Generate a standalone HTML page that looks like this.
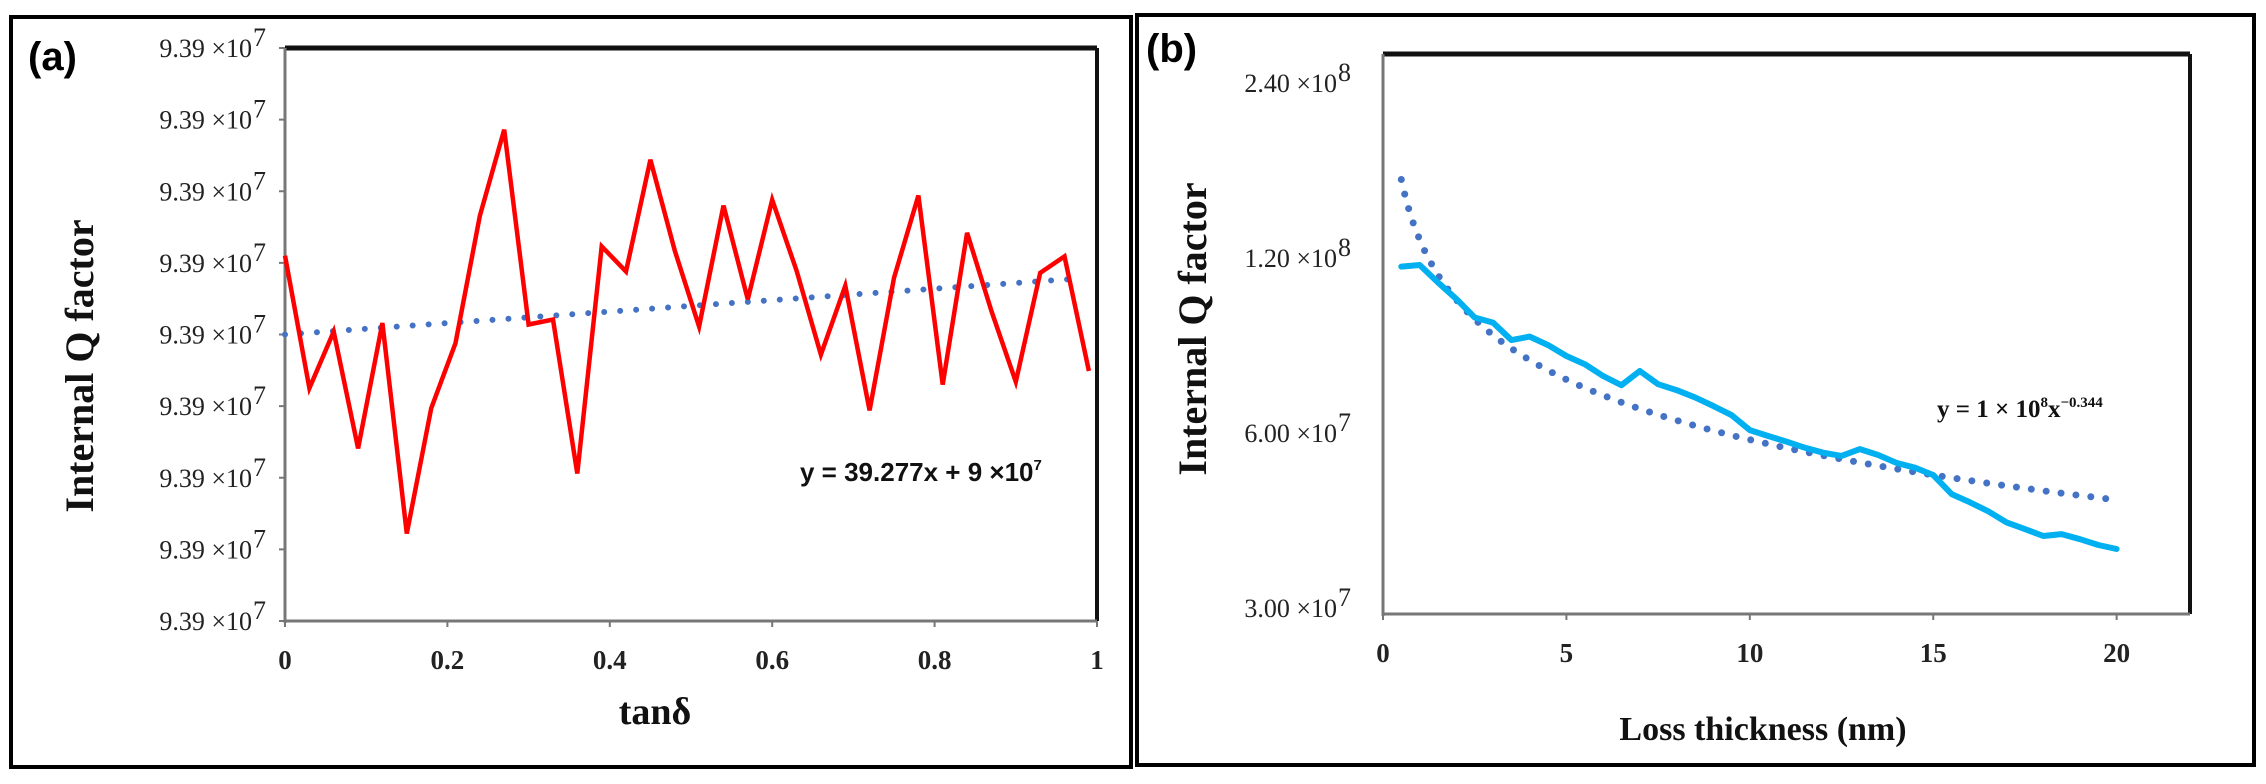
<!DOCTYPE html>
<html><head><meta charset="utf-8"><style>
html,body{margin:0;padding:0;background:#fff;width:2266px;height:784px;overflow:hidden}
svg{display:block}
.tick{font-family:"Liberation Serif",serif;font-size:26px;fill:#222}
.xt{font-family:"Liberation Serif",serif;font-size:27px;font-weight:bold;fill:#222}
.title{font-family:"Liberation Serif",serif;font-weight:bold;fill:#111}
.lab{font-family:"Liberation Sans",sans-serif;font-weight:bold;font-size:40px;fill:#000}
</style></head><body>
<svg id="fig" width="2266" height="784" viewBox="0 0 2266 784" xmlns="http://www.w3.org/2000/svg">
<rect x="11" y="17" width="1120" height="750" fill="none" stroke="#000" stroke-width="4"/>
<rect x="1137" y="15" width="1117" height="750" fill="none" stroke="#000" stroke-width="4"/>
<text class="lab" x="28" y="70">(a)</text>
<text class="lab" x="1146" y="62">(b)</text>
<g id="ga"></g>
<g id="gb"></g>
</svg>
<script>
// ---- Panel (a) data ----
const aX = [0,0.03,0.06,0.09,0.12,0.15,0.18,0.21,0.24,0.27,0.30,0.33,0.36,0.39,0.42,0.45,0.48,0.51,0.54,0.57,0.60,0.63,0.66,0.69,0.72,0.75,0.78,0.81,0.84,0.87,0.90,0.93,0.96,0.99];
const aY = [5.10,3.25,4.04,2.41,4.16,1.22,2.97,3.88,5.66,6.86,4.14,4.21,2.06,5.23,4.88,6.44,5.17,4.11,5.80,4.49,5.88,4.89,3.72,4.68,2.94,4.79,5.94,3.30,5.42,4.33,3.34,4.86,5.09,3.49];
const aYTicks = [0,1,2,3,4,5,6,7,8];
const aYTickLabel = "9.39 ×10";
const aXTicks = [0,0.2,0.4,0.6,0.8,1];
const aXTickLabels = ["0","0.2","0.4","0.6","0.8","1"];
const aTrend = [4.0, 0.8]; // intercept, slope (axis units)
// ---- Panel (b) data ----
const bX = [0.5,1,1.5,2,2.5,3,3.5,4,4.5,5,5.5,6,6.5,7,7.5,8,8.5,9,9.5,10,10.5,11,11.5,12,12.5,13,13.5,14,14.5,15,15.5,16,16.5,17,17.5,18,18.5,19,19.5,20];
const bY = [1.16e8,1.167e8,1.089e8,1.02e8,9.48e7,9.29e7,8.67e7,8.79e7,8.50e7,8.14e7,7.88e7,7.52e7,7.25e7,7.67e7,7.28e7,7.11e7,6.91e7,6.68e7,6.44e7,6.07e7,5.93e7,5.80e7,5.66e7,5.55e7,5.48e7,5.63e7,5.50e7,5.33e7,5.23e7,5.08e7,4.71e7,4.56e7,4.40e7,4.21e7,4.10e7,3.99e7,4.02e7,3.94e7,3.85e7,3.79e7];
const bYTicks = [3e7,6e7,1.2e8,2.4e8];
const bYTickMant = ["3.00","6.00","1.20","2.40"];
const bYTickExp = ["7","7","8","8"];
const bXTicks = [0,5,10,15,20];
const bXTickLabels = ["0","5","10","15","20"];
const bFit = [1.29e8, -0.344];

const NS="http://www.w3.org/2000/svg";
function mk(parent,tag,attrs,text){const e=document.createElementNS(NS,tag);for(const k in attrs)e.setAttribute(k,attrs[k]);if(text!==undefined)e.textContent=text;parent.appendChild(e);return e;}
function sup(t,base,exp){const a=document.createElementNS(NS,'tspan');a.textContent=base;t.appendChild(a);const b=document.createElementNS(NS,'tspan');b.setAttribute('font-size','15');b.setAttribute('dy','-11');b.textContent=exp;t.appendChild(b);}

// ===== Panel A =====
(function(){
const g=document.getElementById('ga');
const L=285,R=1097,T=48,B=621;
const xs=v=>L+(v-0)/(1-0)*(R-L);
const ys=v=>B-(v/8)*(B-T);
let e=mk(g,'line',{x1:L,y1:T,x2:R,y2:T,stroke:'#111','stroke-width':5});

e=mk(g,'line',{x1:R,y1:T,x2:R,y2:B,stroke:'#111','stroke-width':4});

e=mk(g,'line',{x1:L,y1:T,x2:L,y2:B+2,stroke:'#777','stroke-width':3});

e=mk(g,'line',{x1:L,y1:B,x2:R,y2:B,stroke:'#777','stroke-width':3});

aYTicks.forEach(t=>{
  const tk=mk(g,'line',{x1:L-6,y1:ys(t),x2:L,y2:ys(t),stroke:'#777','stroke-width':2});
  
  const tx=mk(g,'text',{class:'tick',x:L-33,y:ys(t)+9,'text-anchor':'end'});
  
  tx.textContent=aYTickLabel;
  const sp=mk(g,'text',{class:'tick',x:L-32,y:ys(t)-2,'font-size':'15'},'7');
  
});
aXTicks.forEach((t,i)=>{
  const tk=mk(g,'line',{x1:xs(t),y1:B,x2:xs(t),y2:B+6,stroke:'#777','stroke-width':2});
  
  const tx=mk(g,'text',{class:'xt',x:xs(t),y:B+48,'text-anchor':'middle'},aXTickLabels[i]);
  
});
const x0=0,x1=0.975;
const tr=mk(g,'line',{x1:xs(x0),y1:ys(aTrend[0]+aTrend[1]*x0),x2:xs(x1),y2:ys(aTrend[0]+aTrend[1]*x1),stroke:'#4472C4','stroke-width':6,'stroke-linecap':'round','stroke-dasharray':'0 16'});

const pts=aX.map((x,i)=>xs(x).toFixed(1)+','+ys(aY[i]).toFixed(1)).join(' ');
const pl=mk(g,'polyline',{points:pts,fill:'none',stroke:'#FF0000','stroke-width':4.5,'stroke-linejoin':'miter','stroke-miterlimit':4});

const eq=mk(g,'text',{x:800,y:481,'font-family':'"Liberation Sans",sans-serif','font-weight':'bold','font-size':'26',fill:'#111'});

sup(eq,'y = 39.277x + 9 ×10','7');
const yt=mk(g,'text',{class:'title','font-size':'40',x:0,y:0,'text-anchor':'middle',transform:'translate(93,366) rotate(-90)'},'Internal Q factor');

const xt=mk(g,'text',{class:'title','font-size':'38',x:655,y:724,'text-anchor':'middle'},'tanδ');

})();

// ===== Panel B =====
(function(){
const g=document.getElementById('gb');
const L=1383,R=2190,T=54,B=614;
const xs=v=>L+v/22*(R-L);
const ys=v=>608-175*Math.log2(v/3e7);
let e=mk(g,'line',{x1:L,y1:T,x2:R,y2:T,stroke:'#111','stroke-width':5});

e=mk(g,'line',{x1:R,y1:T,x2:R,y2:B,stroke:'#111','stroke-width':4});

e=mk(g,'line',{x1:L,y1:T,x2:L,y2:B+2,stroke:'#777','stroke-width':3});

e=mk(g,'line',{x1:L,y1:B,x2:R,y2:B,stroke:'#777','stroke-width':3});

bYTicks.forEach((t,i)=>{
  const tx=mk(g,'text',{class:'tick',x:L-46,y:ys(t)+9,'text-anchor':'end'});
  
  tx.textContent=bYTickMant[i]+' ×10';
  const sp=mk(g,'text',{class:'tick',x:L-45,y:ys(t)-2,'font-size':'15'},bYTickExp[i]);
  
});
bXTicks.forEach((t,i)=>{
  const tk=mk(g,'line',{x1:xs(t),y1:B,x2:xs(t),y2:B+6,stroke:'#777','stroke-width':2});
  
  const tx=mk(g,'text',{class:'xt',x:xs(t),y:B+48,'text-anchor':'middle'},bXTickLabels[i]);
  
});
const fp=[];for(let x=0.5;x<=20.001;x+=0.1){fp.push(xs(x).toFixed(1)+','+ys(bFit[0]*Math.pow(x,bFit[1])).toFixed(1));}
const fit=mk(g,'polyline',{points:fp.join(' '),fill:'none',stroke:'#4472C4','stroke-width':7,'stroke-linecap':'round','stroke-dasharray':'0 15'});

const pts=bX.map((x,i)=>xs(x).toFixed(1)+','+ys(bY[i]).toFixed(1)).join(' ');
const pl=mk(g,'polyline',{points:pts,fill:'none',stroke:'#00B0F0','stroke-width':6,'stroke-linejoin':'round','stroke-linecap':'round'});

const eq=mk(g,'text',{x:1937,y:417,'font-family':'"Liberation Serif",serif','font-weight':'bold','font-size':'25',fill:'#111'});

eq.innerHTML='y = 1 × 10<tspan font-size="15" dy="-10">8</tspan><tspan dy="10">x</tspan><tspan font-size="15" dy="-10">−0.344</tspan>';
const yt=mk(g,'text',{class:'title','font-size':'40',x:0,y:0,'text-anchor':'middle',transform:'translate(1206,329) rotate(-90)'},'Internal Q factor');

const xt=mk(g,'text',{class:'title','font-size':'34',x:1763,y:740,'text-anchor':'middle'},'Loss thickness (nm)');

})();
</script>
</body></html>
